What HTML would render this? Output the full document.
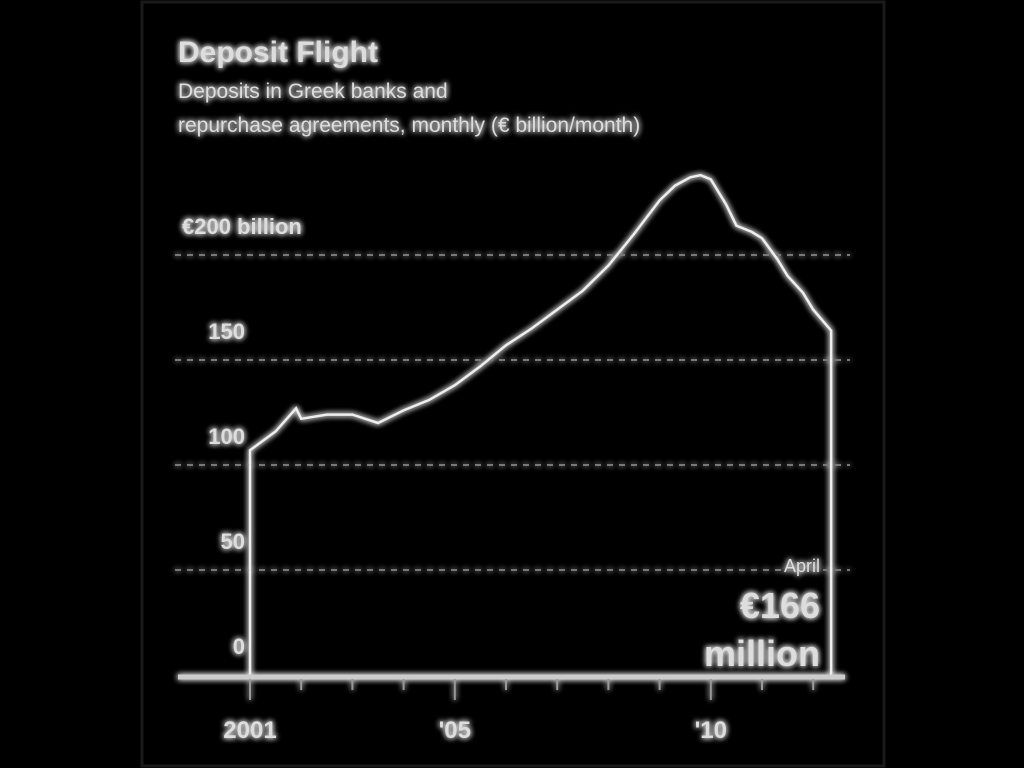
<!DOCTYPE html>
<html><head><meta charset="utf-8"><style>
html,body{margin:0;padding:0;background:#000;width:1024px;height:768px;overflow:hidden}
svg{display:block}
text{font-family:"Liberation Sans",sans-serif;fill:#ddd}
</style></head><body>
<svg width="1024" height="768">
<defs><filter id="glow" x="-20%" y="-20%" width="140%" height="140%"><feGaussianBlur stdDeviation="3" result="b"/><feMerge><feMergeNode in="b"/><feMergeNode in="b"/><feMergeNode in="SourceGraphic"/></feMerge></filter></defs>
<rect x="142" y="2" width="742" height="764" fill="none" stroke="#1a1a1a" stroke-width="3"/>
<g filter="url(#glow)" id="root">
<text x="178" y="62" font-size="30" font-weight="bold">Deposit Flight</text>
<text x="178" y="98" font-size="21">Deposits in Greek banks and</text>
<text x="178" y="132" font-size="21">repurchase agreements, monthly (€ billion/month)</text>
<g id="grid"></g><g id="series"></g><g id="xaxis"></g>
<text x="820" y="572" font-size="18" text-anchor="end">April</text>
<text x="820" y="618" font-size="36" font-weight="bold" text-anchor="end">€166</text>
<text x="820" y="666" font-size="36" font-weight="bold" text-anchor="end">million</text>
</g>
</svg>
<script>
const yTicks=[0,50,100,150,200];
const yTickLabels=["0","50","100","150","€200 billion"];
const xLabelYears=[2001,2005,2010];
const xLabels=["2001","'05","'10"];
const years=[2001,2001.5,2001.9,2002,2002.5,2003,2003.5,2004,2004.5,2005,2005.5,2006,2006.5,2007,2007.5,2008,2008.5,2009,2009.3,2009.6,2009.8,2010,2010.3,2010.5,2010.8,2011,2011.3,2011.5,2011.8,2012,2012.35];
const values=[107,116,127,122,124,124,120,126,131,138,147,157,165,174,183,195,210,226,233,237,238,236,224,214,211,208,198,190,182,174,164];
const ns="http://www.w3.org/2000/svg";
const X=y=>250+(y-2001)*51.2, Y=v=>675-v*2.1;
function mk(t,a,p){const e=document.createElementNS(ns,t);for(const k in a)e.setAttribute(k,a[k]);p.appendChild(e);return e;}
const grid=document.getElementById('grid');
yTicks.forEach((v,i)=>{
 if(v>0){const l=mk('line',{x1:175,x2:850,y1:Y(v),y2:Y(v),stroke:'#777','stroke-width':2,'stroke-dasharray':'6 6'},grid);
 
 }
 const t=mk('text',{x:i==4?182:245,y:Y(v)-21,'font-size':22,'font-weight':'bold','text-anchor':i==4?'start':'end'},grid);
 t.textContent=yTickLabels[i];
 
 
});
const s=document.getElementById('series');
let d='M'+X(years[0])+' '+Y(0);
years.forEach((y,i)=>d+=' L'+X(y)+' '+Y(values[i]));
d+=' L'+X(years[years.length-1])+' '+Y(0);
const p=mk('path',{d:d,fill:'none',stroke:'#eee','stroke-width':2.5},s);


const xa=document.getElementById('xaxis');
const ax=mk('line',{x1:178,x2:845,y1:677,y2:677,stroke:'#ccc','stroke-width':5},xa);


for(let y=2001;y<=2012;y++){const tk=mk('line',{x1:X(y),x2:X(y),y1:679,y2:xLabelYears.includes(y)?700:690,stroke:'#999','stroke-width':2},xa);
 
 }
xLabelYears.forEach((y,i)=>{const t=mk('text',{x:X(y),y:738,'font-size':24,'font-weight':'bold','text-anchor':'middle'},xa);
 t.textContent=xLabels[i];
 
 });
</script>
</body></html>
